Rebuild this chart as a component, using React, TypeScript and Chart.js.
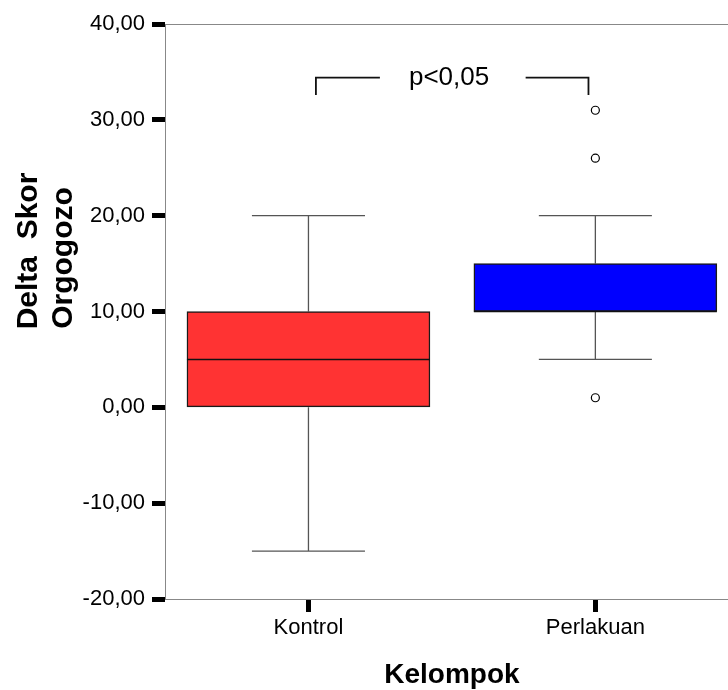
import React, { useEffect, useRef } from "react";
import { Chart, registerables } from "chart.js";

Chart.register(...registerables);

const categories = ["Kontrol", "Perlakuan"];
const whiskerLow = [-15, 5];
const q1 = [0, 10];
const median = [5, 10];
const q3 = [10, 15];
const whiskerHigh = [20, 20];
const outlierGroup = [1, 1, 1];
const outlierValue = [31, 26, 1];
const boxColors = ["#FF3333", "#0000FF"];
const yMin = -20;
const yMax = 40;
const yStep = 10;
const xMin = -0.5;
const xMax = 1.486;
const yTitleLines = ["Delta  Skor", "Orgogozo"];
const xTitle = "Kelompok";
const pLabel = "p<0,05";
const bracketFrom = 0.026;
const bracketTo = 0.976;
const bracketGapFrom = 0.249;
const bracketGapTo = 0.757;
const bracketTextX = 0.49;
const bracketLevel = 34.4;
const bracketDrop = 32.6;
const bracketTextLevel = 33.6;

const FONT = '"Liberation Sans", Arial, sans-serif';

const boxPlugin = {
  id: "boxExtras",
  beforeDatasetsDraw(chart: any) {
    const { ctx, scales } = chart;
    const x = scales.x;
    const y = scales.y;
    const unit = x.getPixelForValue(1) - x.getPixelForValue(0);
    const capHalf = unit * 0.197;
    ctx.save();
    ctx.strokeStyle = "#555";
    ctx.lineWidth = 1.3;
    categories.forEach((_, i) => {
      const cx = x.getPixelForValue(i);
      const yHi = y.getPixelForValue(whiskerHigh[i]);
      const yLo = y.getPixelForValue(whiskerLow[i]);
      const yQ3 = y.getPixelForValue(q3[i]);
      const yQ1 = y.getPixelForValue(q1[i]);
      ctx.beginPath();
      ctx.moveTo(cx, yQ3);
      ctx.lineTo(cx, yHi);
      ctx.moveTo(cx, yQ1);
      ctx.lineTo(cx, yLo);
      ctx.moveTo(cx - capHalf, yHi);
      ctx.lineTo(cx + capHalf, yHi);
      ctx.moveTo(cx - capHalf, yLo);
      ctx.lineTo(cx + capHalf, yLo);
      ctx.stroke();
    });
    ctx.restore();
  },
  afterDatasetsDraw(chart: any) {
    const { ctx, scales, chartArea } = chart;
    const x = scales.x;
    const y = scales.y;
    const halfBox = 121.5;
    ctx.save();
    ctx.strokeStyle = "#111";
    ctx.lineWidth = 1.5;
    categories.forEach((_, i) => {
      const cx = x.getPixelForValue(i);
      const my = y.getPixelForValue(median[i]);
      ctx.beginPath();
      ctx.moveTo(cx - halfBox, my);
      ctx.lineTo(cx + halfBox, my);
      ctx.stroke();
    });
    ctx.strokeStyle = "#888";
    ctx.lineWidth = 1;
    ctx.beginPath();
    ctx.moveTo(chartArea.left, Math.round(chartArea.top) + 0.5);
    ctx.lineTo(chartArea.right + 20, Math.round(chartArea.top) + 0.5);
    ctx.stroke();
    const bl = y.getPixelForValue(bracketLevel);
    const bd = y.getPixelForValue(bracketDrop);
    const x1 = x.getPixelForValue(bracketFrom);
    const x2 = x.getPixelForValue(bracketGapFrom);
    const x3 = x.getPixelForValue(bracketGapTo);
    const x4 = x.getPixelForValue(bracketTo);
    ctx.strokeStyle = "#111";
    ctx.lineWidth = 1.8;
    ctx.beginPath();
    ctx.moveTo(x1, bd);
    ctx.lineTo(x1, bl);
    ctx.lineTo(x2, bl);
    ctx.moveTo(x3, bl);
    ctx.lineTo(x4, bl);
    ctx.lineTo(x4, bd);
    ctx.stroke();
    ctx.fillStyle = "#000";
    ctx.font = `26px ${FONT}`;
    ctx.textAlign = "center";
    ctx.textBaseline = "alphabetic";
    ctx.fillText(pLabel, x.getPixelForValue(bracketTextX), y.getPixelForValue(bracketTextLevel));
    ctx.restore();
  },
  afterDraw(chart: any) {
    const { ctx, scales } = chart;
    const x = scales.x;
    ctx.save();
    ctx.fillStyle = "#000";
    ctx.textAlign = "center";
    ctx.textBaseline = "alphabetic";
    ctx.font = `bold 28px ${FONT}`;
    ctx.fillText(xTitle, x.getPixelForValue(0.5), 683);
    ctx.font = `bold 30px ${FONT}`;
    const titlePos = [
      { bx: 37, cy: 251 },
      { bx: 72, cy: 258 },
    ];
    yTitleLines.forEach((line, i) => {
      ctx.save();
      ctx.translate(titlePos[i].bx, titlePos[i].cy);
      ctx.rotate(-Math.PI / 2);
      ctx.fillText(line, 0, 0);
      ctx.restore();
    });
    ctx.restore();
  },
};

export default function App() {
  const canvasRef = useRef<HTMLCanvasElement | null>(null);

  useEffect(() => {
    const canvas = canvasRef.current;
    if (!canvas) return;
    const chart = new Chart(canvas, {
      type: "bar",
      data: {
        datasets: [
          {
            type: "bar",
            data: categories.map((_, i) => ({ x: i, y: [q1[i], q3[i]] })) as any,
            backgroundColor: boxColors,
            borderColor: "#1a1a1a",
            borderWidth: 1.5,
            borderSkipped: false,
            barThickness: 243,
          } as any,
          {
            type: "scatter",
            data: outlierValue.map((v, i) => ({ x: outlierGroup[i], y: v })),
            pointRadius: 4,
            pointStyle: "circle",
            borderColor: "#000",
            backgroundColor: "rgba(255,255,255,0)",
            borderWidth: 1.2,
          } as any,
        ],
      },
      options: {
        responsive: false,
        maintainAspectRatio: false,
        devicePixelRatio: 1,
        animation: false,
        layout: { padding: { top: 24, left: 0, right: 0, bottom: 0 } },
        plugins: {
          legend: { display: false },
          tooltip: { enabled: false },
          title: { display: false },
        },
        scales: {
          x: {
            type: "linear",
            min: xMin,
            max: xMax,
            offset: false,
            afterBuildTicks: (scale: any) => {
              scale.ticks = categories.map((_, i) => ({ value: i }));
            },
            afterFit: (scale: any) => {
              scale.height = 91;
            },
            grid: {
              display: true,
              offset: false,
              drawOnChartArea: false,
              drawTicks: true,
              tickLength: 13,
              tickWidth: 5,
              tickColor: "#000",
            },
            border: { display: true, color: "#888", width: 1 },
            ticks: {
              color: "#000",
              padding: 3,
              font: { family: FONT, size: 22 },
              callback: (v: any) => categories[Number(v)] ?? "",
              maxRotation: 0,
              autoSkip: false,
            },
          },
          y: {
            type: "linear",
            min: yMin,
            max: yMax,
            afterFit: (scale: any) => {
              scale.width = 165;
            },
            grid: {
              display: true,
              drawOnChartArea: false,
              drawTicks: true,
              tickLength: 13,
              tickWidth: 5,
              tickColor: "#000",
            },
            border: { display: true, color: "#888", width: 1 },
            ticks: {
              stepSize: yStep,
              color: "#000",
              padding: 7,
              font: { family: FONT, size: 22 },
              callback: (v: any) => Number(v).toFixed(2).replace(".", ","),
            },
          },
        },
      } as any,
      plugins: [boxPlugin],
    });
    return () => chart.destroy();
  }, []);

  return (
    <div
      style={{
        position: "fixed",
        left: 0,
        top: 0,
        width: 728,
        height: 690,
        overflow: "hidden",
        background: "#fff",
      }}
    >
      <canvas ref={canvasRef} width={740} height={690} style={{ display: "block" }} />
    </div>
  );
}
